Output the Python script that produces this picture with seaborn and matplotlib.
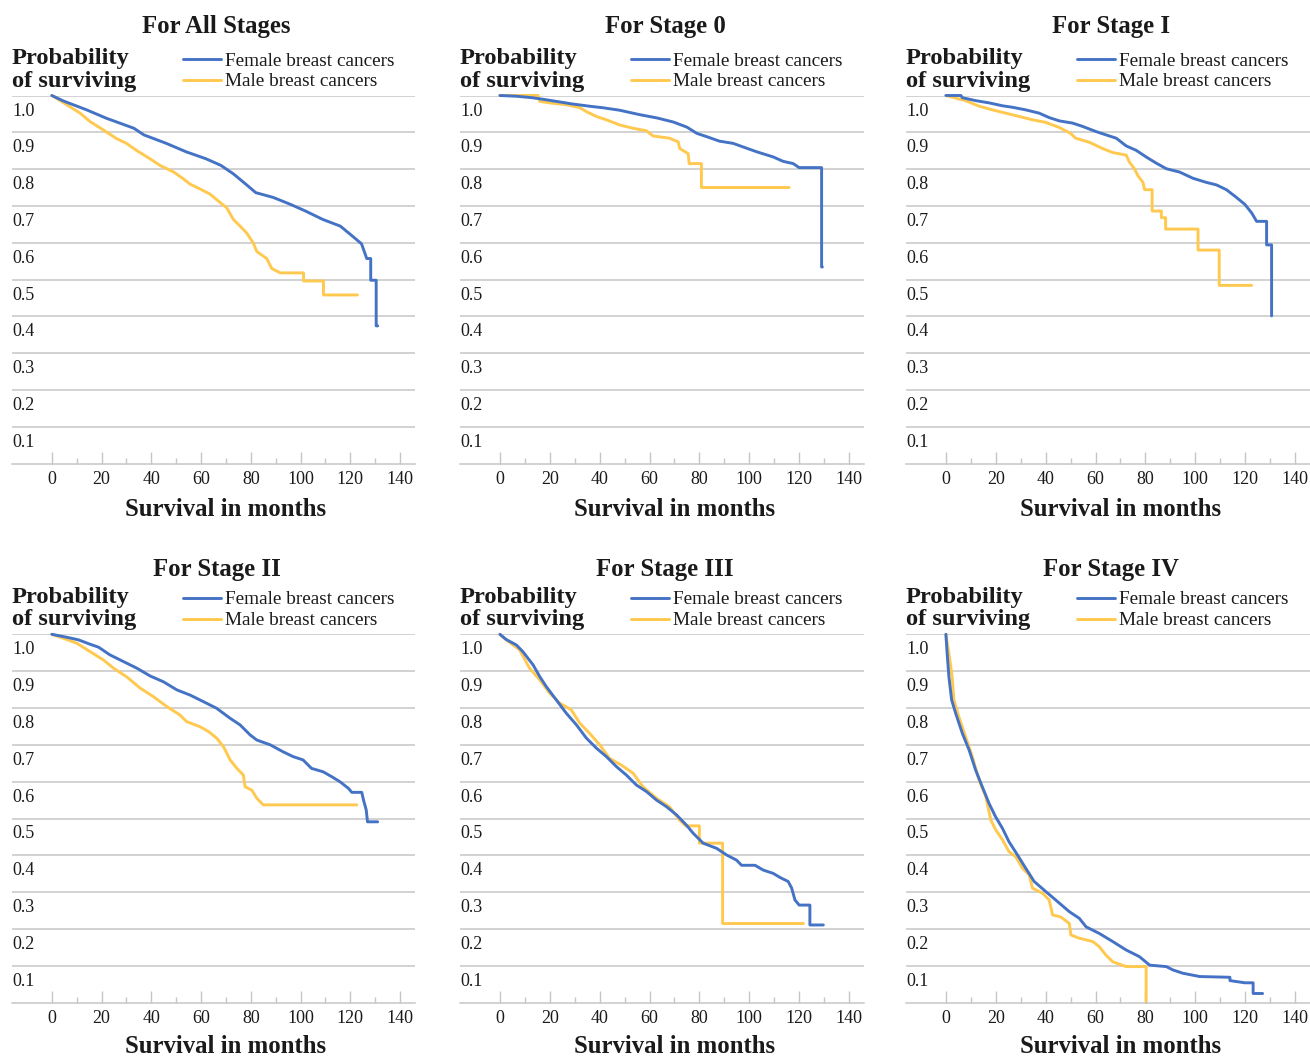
import matplotlib
matplotlib.use("Agg")
import matplotlib.pyplot as plt
import matplotlib.transforms as mtransforms
import seaborn as sns

# ---- data (months, probability of surviving) ----

# For All Stages
all_f_t = [0, 4.7, 14, 22, 33, 37, 46, 54, 62, 68, 73, 78, 82, 89, 96, 102, 109, 116, 121,
           124.5, 126.6, 128.2, 128.2, 130.4, 130.4, 131]
all_f_s = [1.0, 0.985, 0.961, 0.938, 0.911, 0.893, 0.870, 0.847, 0.828, 0.810, 0.787, 0.759, 0.736,
           0.723, 0.704, 0.686, 0.663, 0.645, 0.617, 0.597, 0.557, 0.557, 0.498, 0.498, 0.374, 0.374]
all_m_t = [0, 6, 11.4, 15.4, 20.8, 26, 30, 34, 39.5, 43.5, 49, 53, 55.6, 59.6, 63.6, 67.7, 70.3,
           73, 75.7, 78.4, 81, 82.4, 86.4, 88.4, 91.8, 101.2, 101.2, 109.2, 109.2, 122.9]
all_m_s = [1.0, 0.975, 0.952, 0.929, 0.906, 0.883, 0.870, 0.851, 0.828, 0.810, 0.792, 0.773, 0.759,
           0.746, 0.732, 0.709, 0.695, 0.663, 0.645, 0.626, 0.599, 0.576, 0.557, 0.530, 0.518,
           0.518, 0.496, 0.496, 0.458, 0.458]

# For Stage 0
s0_f_t = [0, 6.6, 13, 18, 22.6, 29, 37, 41, 48, 56, 63, 69.5, 75, 79, 83, 88, 93.5, 97.6, 103,
          109.6, 113.6, 117.6, 120, 129, 129, 129.3]
s0_f_s = [1.0, 0.998, 0.994, 0.989, 0.984, 0.977, 0.970, 0.967, 0.960, 0.948, 0.939, 0.928, 0.914,
          0.897, 0.888, 0.876, 0.870, 0.860, 0.847, 0.833, 0.821, 0.815, 0.804, 0.804, 0.534, 0.534]
s0_m_t = [0, 15.3, 16, 20, 26.6, 32, 34.7, 38.7, 42.7, 48, 53.4, 58.8, 61.4, 68, 71.5, 72.1, 75.5,
          75.9, 80.8, 80.8, 116]
s0_m_s = [1.0, 1.0, 0.984, 0.980, 0.975, 0.967, 0.956, 0.943, 0.934, 0.920, 0.911, 0.904, 0.890,
          0.884, 0.874, 0.856, 0.842, 0.815, 0.815, 0.750, 0.750]

# For Stage I
s1_f_t = [0, 6, 6.6, 12, 17.3, 22.7, 26.7, 32, 37.4, 41.4, 45.5, 50.8, 54.8, 60.2, 64.2, 68.3,
          72.3, 76.3, 80.3, 84.4, 88.4, 93.7, 99.1, 104.4, 108.5, 112.5, 116.5, 119.9, 122.6,
          124.6, 128.6, 128.6, 130.6, 130.6]
s1_f_s = [1.0, 1.0, 0.994, 0.986, 0.980, 0.972, 0.968, 0.961, 0.952, 0.940, 0.931, 0.925, 0.916,
          0.902, 0.893, 0.884, 0.863, 0.851, 0.833, 0.816, 0.801, 0.792, 0.775, 0.764, 0.757,
          0.744, 0.723, 0.704, 0.681, 0.658, 0.658, 0.594, 0.594, 0.401]
s1_m_t = [0, 7.9, 13.3, 18.6, 24, 29.4, 34.7, 40, 45.5, 50, 52, 57.5, 62.8, 66.9, 72.3, 73.6,
          75.6, 77, 79, 79.7, 82.7, 82.7, 86.4, 86.4, 88.1, 88.1, 101.1, 101.1, 109.6, 109.6, 122.6]
s1_m_s = [1.0, 0.986, 0.971, 0.961, 0.952, 0.943, 0.934, 0.927, 0.913, 0.897, 0.884, 0.873,
          0.856, 0.845, 0.838, 0.819, 0.801, 0.782, 0.764, 0.744, 0.744, 0.686, 0.686, 0.668,
          0.668, 0.637, 0.637, 0.580, 0.580, 0.484, 0.484]

# For Stage II
s2_f_t = [0, 6, 10.7, 15.4, 18.8, 23.4, 28.8, 34.2, 39.5, 44.9, 50.3, 55.6, 61, 66.3, 71.7, 75.7,
          79.7, 82.4, 87.8, 93, 97, 101, 104.4, 109, 112.4, 115.8, 119.2, 120.6, 124.6, 125.3,
          126.4, 126.9, 131]
s2_f_s = [1.0, 0.992, 0.985, 0.973, 0.965, 0.944, 0.926, 0.908, 0.887, 0.871, 0.849, 0.835, 0.817,
          0.799, 0.772, 0.754, 0.727, 0.713, 0.700, 0.681, 0.668, 0.659, 0.636, 0.627, 0.614,
          0.600, 0.582, 0.571, 0.571, 0.550, 0.523, 0.491, 0.491]
s2_m_t = [0, 4.7, 10, 15.4, 20.8, 24.8, 30, 35.5, 40.8, 46.2, 51.5, 54.2, 59.6, 63, 66.3, 69, 71.7,
          74.4, 77, 77.7, 80.4, 82.4, 85, 122.6]
s2_m_s = [1.0, 0.989, 0.976, 0.953, 0.930, 0.908, 0.885, 0.854, 0.831, 0.804, 0.781, 0.763, 0.749,
          0.736, 0.718, 0.695, 0.659, 0.636, 0.618, 0.586, 0.577, 0.555, 0.537, 0.537]

# For Stage III
s3_f_t = [0, 2.5, 6.6, 9.2, 13.3, 16, 18.6, 22.6, 26.6, 30.7, 34.7, 38.7, 42.7, 46.7, 50.7, 54.7,
          58.8, 62.8, 66.8, 70.8, 74.8, 77.5, 81.5, 86.9, 90.9, 94.9, 96.9, 102.3, 105.6, 109.6,
          112.3, 115.6, 117, 118.3, 120, 124.3, 124.3, 129.7]
s3_f_s = [1.0, 0.986, 0.971, 0.953, 0.917, 0.885, 0.858, 0.822, 0.786, 0.754, 0.718, 0.691, 0.668,
          0.641, 0.618, 0.591, 0.573, 0.550, 0.532, 0.510, 0.482, 0.460, 0.433, 0.419, 0.401,
          0.387, 0.373, 0.373, 0.360, 0.351, 0.340, 0.329, 0.311, 0.279, 0.265, 0.265, 0.211, 0.211]
s3_m_t = [0, 2.5, 7.9, 11.9, 16, 20, 24, 28.6, 32, 36, 40, 44, 48.7, 53.4, 57.4, 62.8, 68, 72,
          74.5, 80, 80, 89.3, 89.3, 121.7]
s3_m_s = [1.0, 0.985, 0.958, 0.908, 0.876, 0.840, 0.813, 0.795, 0.759, 0.731, 0.700, 0.663, 0.645,
          0.623, 0.586, 0.555, 0.532, 0.496, 0.480, 0.480, 0.433, 0.433, 0.215, 0.215]

# For Stage IV
s4_f_t = [0, 0.5, 1.2, 2.3, 3.9, 6.6, 9.3, 11.9, 14.6, 17.3, 19.9, 22.7, 25.3, 28.7, 32, 35.4, 40,
          44, 49.5, 53.5, 56.2, 61.5, 66.9, 72.3, 77.6, 81.7, 88.4, 91, 95, 101.8, 113.9, 113.9,
          119.9, 123.2, 123.2, 127]
s4_f_s = [1.0, 0.948, 0.885, 0.822, 0.786, 0.731, 0.686, 0.632, 0.586, 0.541, 0.505, 0.473, 0.437,
          0.401, 0.365, 0.329, 0.302, 0.279, 0.247, 0.229, 0.206, 0.188, 0.166, 0.143, 0.125,
          0.102, 0.098, 0.089, 0.080, 0.071, 0.069, 0.060, 0.054, 0.054, 0.025, 0.025]
s4_m_t = [0, 1.2, 2.5, 3.2, 5.2, 7.9, 10.6, 13.3, 16, 18, 20, 22.7, 25.3, 28, 30.7, 33.4, 34.7,
          38.8, 41.4, 42.8, 46, 49.5, 50.1, 53.5, 58.9, 61.5, 64.2, 66.9, 72.3, 80.3, 80.3]
s4_m_s = [1.0, 0.948, 0.885, 0.822, 0.776, 0.722, 0.668, 0.604, 0.559, 0.496, 0.469, 0.442, 0.410,
          0.396, 0.365, 0.347, 0.311, 0.297, 0.279, 0.238, 0.233, 0.215, 0.184, 0.175, 0.166,
          0.152, 0.129, 0.111, 0.098, 0.098, 0.0]

titles = ["For All Stages", "For Stage 0", "For Stage I",
          "For Stage II", "For Stage III", "For Stage IV"]
female_t = [all_f_t, s0_f_t, s1_f_t, s2_f_t, s3_f_t, s4_f_t]
female_s = [all_f_s, s0_f_s, s1_f_s, s2_f_s, s3_f_s, s4_f_s]
male_t = [all_m_t, s0_m_t, s1_m_t, s2_m_t, s3_m_t, s4_m_t]
male_s = [all_m_s, s0_m_s, s1_m_s, s2_m_s, s3_m_s, s4_m_s]
y_ticks = [0.1, 0.2, 0.3, 0.4, 0.5, 0.6, 0.7, 0.8, 0.9, 1.0]
x_ticks = [0, 20, 40, 60, 80, 100, 120, 140]
x_minor = [10, 30, 50, 70, 90, 110, 130]

FEMALE = "#4472C4"
MALE = "#FFC94F"
GRID = "#c6c6c6"
INK = "#1a1a1a"

sns.set_style("white")
plt.rcParams["font.family"] = ["Liberation Serif", "DejaVu Serif"]

W, H = 1310, 1056
fig = plt.figure(figsize=(W / 100, H / 100), dpi=100)

cols = [(12, 415), (460, 864), (906, 1310)]
rows = [(95.5, 463.5), (634.3, 1002.7)]
title_up = [62.7, 58.0]
xlabel_down = [53, 50]


def shift(trans, dx, dy):
    # offset in pixels (dpi 100)
    return trans + mtransforms.ScaledTranslation(dx / 100, dy / 100, fig.dpi_scale_trans)


for i in range(6):
    r, c = divmod(i, 3)
    l, rr = cols[c]
    t, b = rows[r]
    ax = fig.add_axes([l / W, 1 - b / H, (rr - l) / W, (b - t) / H])

    sns.lineplot(x=male_t[i], y=male_s[i], ax=ax, color=MALE, lw=2.1, sort=False,
                 estimator=None, label="Male breast cancers")
    sns.lineplot(x=female_t[i], y=female_s[i], ax=ax, color=FEMALE, lw=2.1, sort=False,
                 estimator=None, label="Female breast cancers")
    for ln in ax.lines:
        ln.set_clip_on(False)

    ax.set_xlim(-16, 146)
    ax.set_ylim(0, 1.0)
    ax.set_xticks(x_ticks)
    ax.set_xticks(x_minor, minor=True)
    ax.set_yticks(y_ticks)
    ax.set_xlabel("")
    ax.set_ylabel("")
    ax.grid(axis="y", color=GRID, lw=1.1)
    ax.set_axisbelow(True)
    for side in ["top", "left", "right"]:
        ax.spines[side].set_visible(False)
    ax.spines["bottom"].set_color(GRID)
    ax.spines["bottom"].set_linewidth(1.1)
    ax.tick_params(axis="y", left=False, labelleft=False)
    ax.tick_params(axis="x", which="major", direction="in", length=8.6, width=1.0,
                   color=GRID, pad=5.5, labelsize=13, labelcolor=INK, bottom=True)
    ax.tick_params(axis="x", which="minor", direction="in", length=4.3, width=1.0,
                   color=GRID, bottom=True)

    # y labels sit just under their gridline
    ytrans = mtransforms.blended_transform_factory(ax.transAxes, ax.transData)
    for v in y_ticks:
        ax.text(0, v, f"{v:.1f}", transform=shift(ytrans, 0, -15.5), ha="left", va="center",
                fontsize=13, color=INK)

    ax.text(0.5, 1, titles[i], transform=shift(ax.transAxes, 3, title_up[r]), ha="center",
            va="baseline", fontsize=17.8, fontweight="bold", color=INK)
    ax.text(0, 1, "Probability", transform=shift(ax.transAxes, 0, 31.5), ha="left",
            va="baseline", fontsize=17.6, fontweight="bold", color=INK)
    ax.text(0, 1, "of surviving", transform=shift(ax.transAxes, 0, 9), ha="left",
            va="baseline", fontsize=17.6, fontweight="bold", color=INK)

    xtrans = mtransforms.blended_transform_factory(ax.transData, ax.transAxes)
    ax.text(70, 0, "Survival in months", transform=shift(xtrans, 0, -xlabel_down[r]),
            ha="center", va="baseline", fontsize=17.8, fontweight="bold", color=INK)

    handles, labels = ax.get_legend_handles_labels()
    order = [labels.index("Female breast cancers"), labels.index("Male breast cancers")]
    ax.legend([handles[k] for k in order], [labels[k] for k in order],
              loc="lower left", bbox_to_anchor=(0.424, 1.0136), frameon=False,
              fontsize=13.9, borderpad=0, borderaxespad=0, handlelength=1.97,
              handletextpad=0.2, labelspacing=0.17, labelcolor=INK)

fig.savefig("out.png", dpi=100)
